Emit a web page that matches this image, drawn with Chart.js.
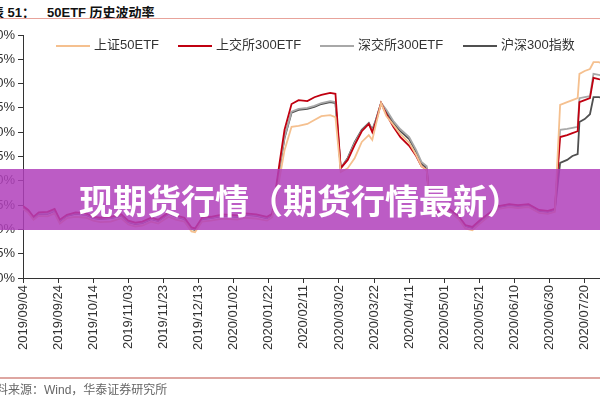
<!DOCTYPE html>
<html>
<head>
<meta charset="utf-8">
<script src="https://cdn.jsdelivr.net/npm/chart.js@4.4.1/dist/chart.umd.min.js"></script>
<style>
  html, body { margin: 0; padding: 0; background: #fff; }
  body { width: 600px; height: 400px; position: relative; overflow: hidden; font-family: "Liberation Sans", Arial, "Noto Sans CJK SC", sans-serif; }
  #wrap { position: absolute; left: -40px; top: 0; width: 644px; height: 400px; }
  .title { position: absolute; top: 2px; font-size: 13px; font-weight: bold; color: #111; white-space: nowrap; }
  .rule { position: absolute; left: 0; width: 600px; }
  .legend { position: absolute; top: 34px; font-size: 13px; color: #333; white-space: nowrap; }
  .legend i { display: inline-block; width: 34px; height: 2px; vertical-align: middle; margin-right: 4px; }
  .source { position: absolute; top: 380px; left: -16px; font-size: 12px; color: #666; white-space: nowrap; }
  #band { position: absolute; left: 0; top: 169px; width: 600px; height: 61px; background: rgba(176, 64, 187, 0.85);
          color: #fff; font-family: "Noto Sans CJK SC", sans-serif; font-weight: bold; font-size: 34px;
          line-height: 61px; text-align: center; z-index: 5; }
</style>
</head>
<body>
<div class="title" style="left:-9px">表 51：</div>
<div class="title" style="left:47px">50ETF 历史波动率</div>
<div class="rule" style="top:18px;height:1px;background:#e8a39b"></div>

<div id="wrap"><canvas id="vol" width="644" height="400"></canvas></div>
<div id="legend"></div>

<div class="rule" style="top:377px;height:2px;background:#dea6a1"></div>
<div class="source">资料来源：Wind，华泰证券研究所</div>

<div id="band">现期货行情（期货行情最新）</div>

<script>
const seriesNames = ['上证50ETF', '上交所300ETF', '深交所300ETF', '沪深300指数'];
const seriesColors = ['#f5c08f', '#c00010', '#a8a8a8', '#505050'];

// days since 2019/09/04
const days = [0, 3, 6, 9, 14, 18, 21, 25, 30, 36, 40, 44, 50, 56, 60, 64, 68, 73, 77, 83,
  87, 92, 96, 98, 102, 107, 114, 122, 127, 133, 139, 142, 146, 149, 153, 157, 162, 166, 170, 175,
  178, 181, 185, 189, 193, 197, 199, 201, 204, 207, 211, 215, 220, 224, 227, 230, 232, 238, 243, 248,
  252, 256, 261, 265, 271, 277, 282, 288, 294, 299, 303, 306, 310, 313, 316, 317, 320, 323, 325, 328, 331];

const sh50etf = [14.2, 13.4, 12.0, 12.8, 12.7, 13.3, 11.2, 12.3, 12.6, 12.4,
  11.8, 11.5, 11.6, 12.3, 11.0, 10.6, 10.8, 11.6, 11.2, 12.6,
  12.0, 11.6, 9.6, 9.4, 11.6, 11.8, 12.2, 12.0, 12.4, 12.2,
  11.8, 12.5,
  20.2, 26.3, 31.1, 31.3, 31.7, 32.5, 33.3, 33.5, 33.1, 21.8, 22.6, 24.7, 28.0, 29.4, 28.4, 31.5,
  36.0, 33.3, 31.5, 29.6, 27.8, 25.3, 23.0, 22.2,
  13.6, 13.0, 13.6, 12.2, 10.2, 9.8, 11.4, 12.6, 14.2, 14.6, 14.4, 14.6, 13.4, 13.2, 13.6,
  35.6, 36.2, 36.6, 37.0, 42.0, 42.6, 43.0, 44.4, 44.4, 44.0];

const sse300etf = [14.8, 14.0, 12.6, 13.5, 13.6, 14.2, 12.0, 13.0, 13.5, 13.3,
  12.6, 12.4, 12.6, 13.1, 11.8, 11.4, 11.6, 12.4, 12.0, 13.5,
  12.9, 12.4, 10.4, 10.2, 12.4, 12.6, 13.1, 12.9, 13.3, 13.1,
  12.6, 13.2,
  23.3, 30.5, 35.8, 36.6, 36.4, 37.2, 37.7, 38.1, 37.9, 22.6, 24.3, 27.4, 30.2, 31.7, 30.0, 32.1,
  36.0, 33.7, 31.1, 29.0, 27.2, 25.1, 23.0, 22.2,
  14.2, 13.6, 14.2, 12.8, 10.9, 10.5, 12.1, 13.2, 14.8, 15.2, 15.0, 15.2, 14.0, 13.8, 14.2,
  29.0, 29.4, 29.8, 30.2, 36.2, 36.6, 37.0, 41.2, 40.9, 40.7];

const szse300etf = [14.7, 13.9, 12.4, 13.3, 13.3, 13.9, 11.8, 12.9, 13.3, 13.1,
  12.4, 12.2, 12.4, 12.9, 11.6, 11.2, 11.4, 12.2, 11.8, 13.3,
  12.7, 12.2, 10.2, 10.0, 12.2, 12.4, 12.9, 12.7, 13.1, 12.9,
  12.4, 13.1,
  22.4, 29.0, 34.2, 34.8, 35.0, 35.4, 36.0, 36.4, 36.2, 22.6, 24.5, 27.8, 30.3, 31.8, 30.3, 32.3,
  36.0, 34.6, 32.3, 30.6, 29.0, 26.3, 23.9, 23.0,
  14.1, 13.5, 14.1, 12.7, 10.8, 10.4, 12.0, 13.1, 14.7, 15.1, 14.9, 15.1, 13.9, 13.7, 14.1,
  30.5, 30.7, 30.9, 31.1, 37.0, 37.2, 37.4, 42.0, 41.8, 41.6];

const hs300 = [14.6, 13.8, 12.3, 13.2, 13.2, 13.8, 11.7, 12.8, 13.2, 13.0,
  12.3, 12.1, 12.3, 12.8, 11.5, 11.1, 11.3, 12.1, 11.7, 13.2,
  12.6, 12.1, 10.1, 9.9, 12.1, 12.3, 12.8, 12.6, 13.0, 12.8,
  12.3, 13.0,
  22.2, 28.8, 34.0, 34.6, 34.8, 35.2, 35.8, 36.2, 36.0, 22.6, 24.7, 28.0, 30.5, 31.9, 30.5, 32.5,
  36.0, 34.2, 31.9, 30.2, 28.6, 25.9, 23.5, 22.6,
  14.0, 13.4, 14.0, 12.6, 10.7, 10.3, 11.9, 13.0, 14.6, 15.0, 14.8, 15.0, 13.8, 13.6, 14.0,
  23.7, 24.3, 25.1, 25.5, 32.1, 32.7, 33.7, 37.2, 37.2, 37.0];

const tickDays = [0, 20, 40, 60, 80, 100, 120, 140, 160, 180, 200, 220, 240, 260, 280, 300, 320];
const tickLabels = ['2019/09/04', '2019/09/24', '2019/10/14', '2019/11/03', '2019/11/23', '2019/12/13',
  '2020/01/02', '2020/01/22', '2020/02/11', '2020/03/02', '2020/03/22', '2020/04/11', '2020/05/01',
  '2020/05/21', '2020/06/10', '2020/06/30', '2020/07/20'];

const allSeries = [sh50etf, sse300etf, szse300etf, hs300];

// html legend
const legendX = [56, 178, 320, 463];
const legend = document.getElementById('legend');
seriesNames.forEach((name, i) => {
  const el = document.createElement('div');
  el.className = 'legend';
  el.style.left = legendX[i] + 'px';
  el.innerHTML = '<i style="background:' + seriesColors[i] + '"></i>' + name;
  legend.appendChild(el);
});

const ctx = document.getElementById('vol');
const tickFont = { family: '"Liberation Sans", Arial, sans-serif', size: 13 };

new Chart(ctx, {
  type: 'line',
  data: {
    datasets: allSeries.map((arr, i) => ({
      label: seriesNames[i],
      data: days.map((d, j) => ({ x: d, y: arr[j] })),
      borderColor: seriesColors[i],
      backgroundColor: seriesColors[i],
      borderWidth: 1.8,
      pointRadius: 0,
      tension: 0
    }))
  },
  options: {
    responsive: false,
    animation: false,
    devicePixelRatio: 1,
    layout: { padding: { top: 35, right: 0, bottom: 0, left: 0 } },
    plugins: {
      legend: { display: false },
      tooltip: { enabled: false }
    },
    scales: {
      x: {
        type: 'linear',
        min: 0,
        max: 331,
        afterBuildTicks: (scale) => { scale.ticks = tickDays.map(v => ({ value: v })); },
        afterFit: (scale) => { scale.height = 122; },
        ticks: {
          autoSkip: false,
          maxRotation: 90,
          minRotation: 90,
          padding: 2,
          color: '#333',
          font: tickFont,
          callback: (value) => tickLabels[tickDays.indexOf(value)]
        },
        grid: { drawOnChartArea: false, drawTicks: true, tickLength: 5, color: '#333' },
        border: { color: '#333', width: 1 }
      },
      y: {
        min: 0,
        max: 50,
        afterFit: (scale) => { scale.width = 63; },
        ticks: {
          stepSize: 5,
          padding: 3,
          color: '#333',
          font: tickFont,
          callback: (value) => value + '%'
        },
        grid: { drawOnChartArea: false, drawTicks: true, tickLength: 5, color: '#333' },
        border: { color: '#333', width: 1 }
      }
    }
  }
});
</script>
</body>
</html>
